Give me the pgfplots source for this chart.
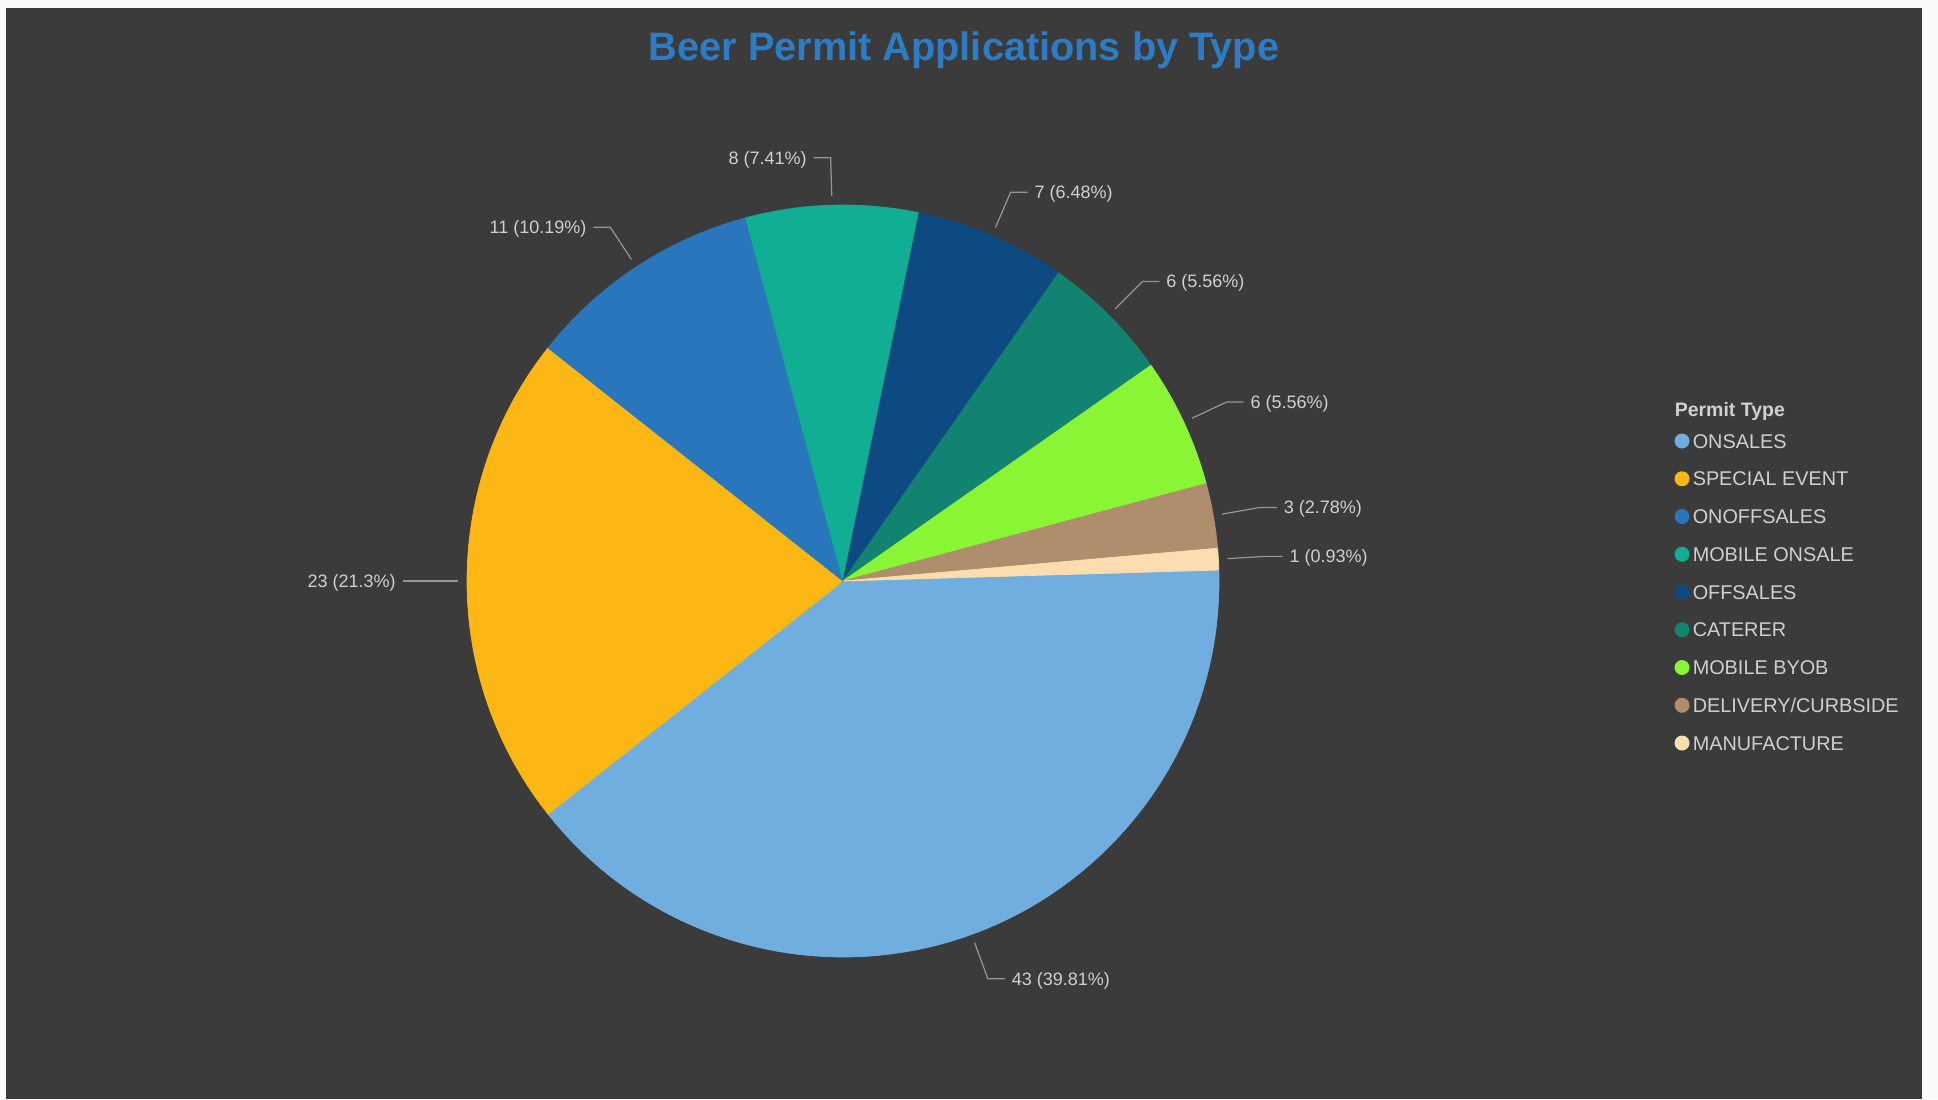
\documentclass[border=0pt]{standalone}
\usepackage{pgfplots}
\pgfplotsset{compat=1.18}
\usepackage{pgfplotstable}
\usepackage{fontspec}
\setmainfont{Liberation Sans}
\definecolor{pagecol}{RGB}{250,250,250}
\definecolor{bgcol}{RGB}{59,59,59}
\definecolor{ctitle}{RGB}{44,124,198}
\definecolor{ctext}{RGB}{208,208,208}
\definecolor{cline}{RGB}{150,150,150}
\definecolor{cOnsales}{RGB}{111,174,223}
\definecolor{cSpecial}{RGB}{253,183,20}
\definecolor{cOnoff}{RGB}{42,118,188}
\definecolor{cMobOn}{RGB}{16,174,147}
\definecolor{cOff}{RGB}{14,74,130}
\definecolor{cCaterer}{RGB}{18,131,113}
\definecolor{cByob}{RGB}{138,245,52}
\definecolor{cDelivery}{RGB}{174,142,108}
\definecolor{cManuf}{RGB}{252,221,175}

\pgfplotstableread[col sep=comma]{
type,count,colour
ONSALES,43,cOnsales
SPECIAL EVENT,23,cSpecial
ONOFFSALES,11,cOnoff
MOBILE ONSALE,8,cMobOn
OFFSALES,7,cOff
CATERER,6,cCaterer
MOBILE BYOB,6,cByob
DELIVERY/CURBSIDE,3,cDelivery
MANUFACTURE,1,cManuf
}\permits

\newcommand\labelfont{\fontsize{5.12pt}{6pt}\selectfont}
\newcommand\legfont{\fontsize{5.65pt}{6.5pt}\selectfont}
\def\startangle{1.67}

\begin{document}
\begin{tikzpicture}
\fill[pagecol] (0,0) rectangle (193.8mm,109.9mm);
\fill[bgcol] (0.6mm,0) rectangle (192.2mm,109.1mm);
\begin{axis}[hide axis, scale only axis, width=75.2mm, height=75.2mm,
  xmin=-1, xmax=1, ymin=-1, ymax=1, clip=false,
  anchor=center, at={(84.3mm,51.8mm)}]
  \pgfplotstablegetrowsof{\permits}
  \pgfmathtruncatemacro\nlast{\pgfplotsretval-1}
  \def\total{0}
  \pgfplotsforeachungrouped \i in {0,...,\nlast}{%
    \pgfplotstablegetelem{\i}{count}\of\permits
    \pgfmathsetmacro\total{\total+\pgfplotsretval}}
  \def\cum{0}
  \pgfplotsforeachungrouped \i in {0,...,\nlast}{%
    \pgfplotstablegetelem{\i}{count}\of\permits \let\val\pgfplotsretval
    \pgfplotstablegetelem{\i}{colour}\of\permits \let\col\pgfplotsretval
    \pgfmathsetmacro\aS{\startangle-360*(\cum/\total)}
    \pgfmathsetmacro\aE{\startangle-360*((\cum+\val)/\total)}
    \pgfmathsetmacro\aM{(\aS+\aE)/2}
    \pgfmathsetmacro\xs{cos(\aS)}
    \pgfmathsetmacro\ys{sin(\aS)}
    \pgfmathsetmacro\pct{(\val*100)/\total}
    \pgfmathprintnumberto[fixed,precision=2,assume math mode=true]{\pct}{\pctstr}
    \pgfmathsetmacro\side{cos(\aM)<0 ? -1 : 1}
    \pgfmathsetmacro\xa{1.024*cos(\aM)}
    \pgfmathsetmacro\ya{1.024*sin(\aM)}
    \pgfmathsetmacro\xb{1.126*cos(\aM)}
    \pgfmathsetmacro\yb{1.126*sin(\aM)}
    \pgfmathsetmacro\xc{\xb+\side*0.045}
    \pgfmathsetmacro\xt{\xc+\side*0.017}
    \pgfmathsetmacro\yt{\yb-0.017}
    \ifdim\side pt>0pt \def\anc{base west}\else\def\anc{base east}\fi
    \edef\cmd{%
      \noexpand\filldraw[fill=\col, draw=\col, line width=0.2pt] (axis cs:0,0) -- (axis cs:\xs,\ys)
        arc[start angle=\aS, end angle=\aE, radius=37.6mm] -- cycle;
      \noexpand\draw[cline, line width=0.12mm] (axis cs:\xa,\ya) -- (axis cs:\xb,\yb) -- (axis cs:\xc,\yb);
      \noexpand\node[anchor=\anc, inner sep=0pt, text=ctext, font=\noexpand\labelfont]
        at (axis cs:\xt,\yt) {\val\space(\unexpanded\expandafter{\pctstr}\noexpand\%)};
    }%
    \cmd
    \pgfmathsetmacro\cum{\cum+\val}
  }
\end{axis}
\begin{scope}[x=0.1mm, y=-0.1mm, shift={(0,109.9mm)}]
  \node[anchor=base, inner sep=0pt, text=ctitle, font=\fontsize{11.3pt}{13pt}\selectfont\bfseries]
    at (964,60.5) {Beer Permit Applications by Type};
  \node[anchor=base west, inner sep=0pt, text=ctext, font=\fontsize{5.55pt}{6.5pt}\selectfont\bfseries]
    at (1674,416) {Permit Type};
  \pgfplotstablegetrowsof{\permits}
  \pgfmathtruncatemacro\nlast{\pgfplotsretval-1}
  \foreach \i in {0,...,\nlast}{%
    \pgfplotstablegetelem{\i}{type}\of\permits \let\nm\pgfplotsretval
    \pgfplotstablegetelem{\i}{colour}\of\permits \let\col\pgfplotsretval
    \fill[\col] (1682,441+37.75*\i) circle[radius=7.5];
    \node[anchor=base west, inner sep=0pt, text=ctext, font=\legfont] at (1692,448+37.75*\i) {\nm};
  }
\end{scope}
\end{tikzpicture}
\end{document}
